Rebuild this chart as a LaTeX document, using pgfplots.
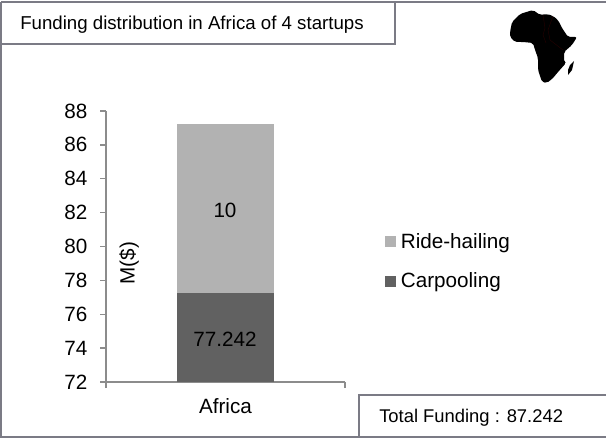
\documentclass[border=0pt]{standalone}
\usepackage{fontspec}
\setmainfont{Liberation Sans}
\usepackage{pgfplots}
\pgfplotsset{compat=1.18}
\definecolor{frameC}{HTML}{7B7B85}
\definecolor{axisC}{HTML}{8C8C8C}
\definecolor{rideC}{HTML}{B2B2B2}
\definecolor{carC}{HTML}{616161}
\begin{document}
\begin{tikzpicture}[x=0.75pt,y=-0.75pt,font=\fontsize{15.5}{18}\selectfont]
	\path[use as bounding box] (0,0) rectangle (606,438);
	% boxes round the chart
	\draw[frameC,line width=1.5pt] (1,2.5) -- (606,2.5);
	\draw[frameC,line width=1.5pt] (1,2) -- (1,436.5) -- (606,436.5);
	\draw[frameC,line width=1.5pt] (1,44) -- (395,44) -- (395,2);
	\draw[frameC,line width=1.5pt] (359,436) -- (359,395) -- (606,395);
	\node[anchor=west,font=\fontsize{14}{16}\selectfont,inner sep=0pt] at (20,25) {Funding distribution in Africa of 4 startups};
	\node[anchor=west,font=\fontsize{13.8}{16}\selectfont,inner sep=0pt] at (379,418) {Total Funding : 87.242};
	% africa logo
	\fill[black,rounded corners=1.5pt] (510,32) -- (512,22) -- (520,14) -- (533,10) -- (540,15) -- (547,14) -- (553,16) -- (558,20) -- (562,28) -- (568,37) -- (577,37) -- (572,45) -- (564,52) -- (564,62) -- (566,63) -- (558,72) -- (553,78) -- (547,83) -- (542,82) -- (538,70) -- (538,58) -- (535,50) -- (533,43) -- (523,42) -- (515,42) -- (510,37) -- cycle;
	\fill[black] (574,61) -- (572,70) -- (568,75) -- (568,70) -- (570,65) -- cycle;
	\draw[black!85!red,line width=0.3pt] (543,15) -- (545,28) -- (543,35) -- (546,43) (553,16) -- (548,30) -- (550,40) -- (563,50);
	\coordinate (orig) at (106,382);
	\begin{axis}[
		at={(orig)}, anchor=south west, scale only axis,
		width=179.25pt, height=203.25pt,
		ybar stacked, bar width=72pt,
		xmin=-0.5, xmax=0.5, ymin=72, ymax=88,
		ytick={72,74,...,88},
		xtick={-0.5,0.5}, xticklabels={,},
		extra x ticks={0}, extra x tick labels={Africa},
		extra x tick style={major tick length=0pt},
		axis lines=left, axis line style={axisC,line width=1pt,-},
		tick style={axisC,line width=1pt},
		major tick length=4.5pt,
		tick align=outside,
		ytick pos=left, xtick pos=bottom,
		tick label style={font=\fontsize{15.5}{18}\selectfont},
		xticklabel style={yshift=-9pt},
		yticklabel style={xshift=-6pt},
		/pgf/number format/assume math mode=true,
		clip=true,
		legend style={draw=none,fill=none,at={(1.167,0.445)},anchor=west,
			font=\fontsize{15.5}{18}\selectfont,row sep=13pt,inner sep=0pt},
		reverse legend,
		legend cell align=left,
		legend image code/.code={\fill[#1] (0pt,-4pt) rectangle (8.25pt,4.25pt);},
		]
		\addplot[draw=none,fill=carC] coordinates {(0,77.242)};
		\addplot[draw=none,fill=rideC] coordinates {(0,10)};
		\legend{\hspace*{1.5pt}Carpooling,\hspace*{1.5pt}Ride-hailing}
	\end{axis}
	% labels on top of the bars
	\node at (225,339) {77.242};
	\node at (225,210) {10};
	\node[rotate=90] at (129,263) {M(\$)};
\end{tikzpicture}
\end{document}
